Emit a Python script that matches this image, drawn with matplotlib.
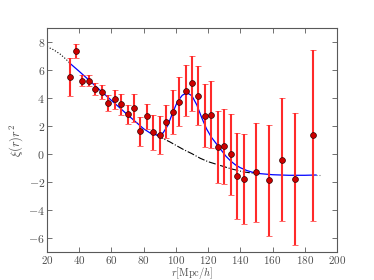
import matplotlib
matplotlib.use("Agg")
import matplotlib.pyplot as plt

plt.rcParams['mathtext.fontset'] = 'cm'
plt.rcParams['font.family'] = 'serif'
plt.rcParams['font.serif'] = ['DejaVu Serif']

# measured points
r_data = [34, 38, 42, 46, 50, 54, 58, 62, 66, 70, 74, 78, 82, 86, 90, 94, 98,
          102, 106, 110, 114, 118, 122, 126, 130, 134, 138, 142, 150, 158, 166, 174, 185]
xi_data = [5.52, 7.36, 5.23, 5.23, 4.62, 4.42, 3.64, 3.92, 3.54, 2.83, 3.26, 1.63,
           2.68, 1.54, 1.37, 2.30, 2.99, 3.73, 4.52, 5.05, 4.16, 2.73, 2.80, 0.51,
           0.54, -0.03, -1.58, -1.80, -1.32, -1.87, -0.42, -1.80, 1.33]
xi_err = [1.37, 0.48, 0.38, 0.38, 0.43, 0.49, 0.58, 0.67, 0.72, 0.69, 1.00, 1.03,
          0.90, 1.25, 1.37, 1.17, 1.58, 1.75, 1.82, 1.98, 2.10, 2.24, 2.40, 2.56,
          2.70, 2.90, 3.07, 3.20, 3.56, 3.97, 4.40, 4.70, 6.10]

# best-fit model (blue)
r_model = [34, 40, 46, 52, 58, 64, 70, 76, 80, 84, 88, 90, 92, 95, 98, 101, 104,
           107, 110, 113, 116, 119, 122, 125, 128, 131, 134, 137, 140, 144, 148,
           152, 156, 160, 170, 180, 187]
xi_model = [6.50, 5.90, 5.28, 4.65, 4.03, 3.42, 2.80, 2.20, 1.80, 1.50, 1.36, 1.37,
            1.50, 2.05, 2.95, 3.75, 4.20, 4.37, 4.15, 3.50, 2.60, 1.80, 1.20, 0.75,
            0.30, -0.15, -0.50, -0.78, -0.98, -1.18, -1.32, -1.40, -1.44, -1.48,
            -1.52, -1.52, -1.50]

# no-wiggle model (black dash-dot)
r_nw = [88, 92, 96, 100, 105, 110, 115, 120, 127, 134, 142, 150]
xi_nw = [1.36, 1.10, 0.88, 0.62, 0.30, 0.02, -0.30, -0.55, -0.80, -1.05, -1.28, -1.40]

# extrapolated parts
r_low = [20, 24, 28, 31, 34]
xi_low = [7.66, 7.45, 7.15, 6.85, 6.52]
r_high = [187, 190]
xi_high = [-1.50, -1.50]

fig = plt.figure(figsize=(3.74, 2.80), dpi=100)
ax = fig.add_axes([0.1257, 0.1, 0.7754, 0.8])

ax.plot(r_low, xi_low, ':', color='k', lw=0.8)
ax.plot(r_high, xi_high, ':', color='0.5', lw=0.8)
ax.plot(r_nw, xi_nw, '-.', color='k', lw=0.8)
ax.plot(r_model, xi_model, '-', color='b', lw=0.9)
ax.errorbar(r_data, xi_data, yerr=xi_err, fmt='o', color='#cc0000', ms=4.2,
            mec='#330000', mew=0.5, ecolor='#ff2a2a', elinewidth=1.5, capsize=2.2,
            capthick=0.8)

ax.set_xlim(20, 200)
ax.set_ylim(-7, 9)
ax.set_xticks(range(20, 201, 20))
ax.set_yticks(range(-6, 9, 2))
ax.set_xticklabels([f'${v}$' for v in range(20, 201, 20)])
ax.set_yticklabels([f'${v}$' if v >= 0 else f'$-{-v}$' for v in range(-6, 9, 2)])
ax.tick_params(direction='in', top=True, right=True, labelsize=8.5, length=3.5,
               width=0.6, color='0.35', labelcolor='0.3', pad=1.5)
ax.tick_params(axis='x', labelsize=8)
for s in ax.spines.values():
    s.set_color('0.35')
    s.set_linewidth(0.8)

ax.set_xlabel(r'$r[\mathrm{Mpc}/h]$', fontsize=7.5, color='0.3')
ax.xaxis.set_label_coords(0.5, -0.057)
ax.set_ylabel(r'$\xi(r)r^2$', fontsize=9, labelpad=2, color='0.3')

fig.savefig('out.png', dpi=100)
